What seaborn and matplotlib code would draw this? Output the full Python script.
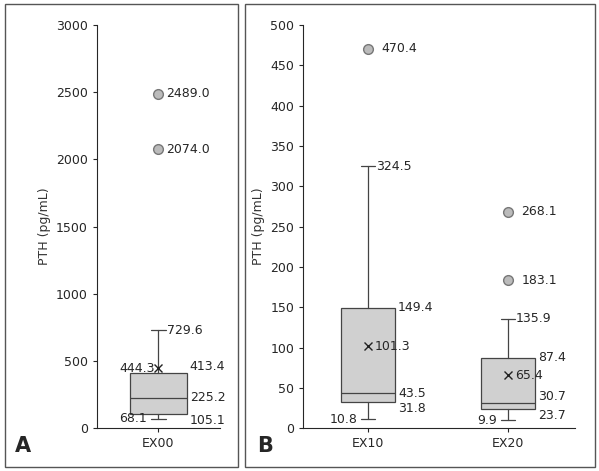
import matplotlib
matplotlib.use("Agg")
import matplotlib.pyplot as plt
import seaborn as sns
from matplotlib.patches import Rectangle

sns.set_style("ticks")
plt.rcParams['font.family'] = ['DejaVu Sans']

# box statistics
groups_a = ["EX00"]
groups_b = ["EX10", "EX20"]
whislo = {"EX00": 68.1, "EX10": 10.8, "EX20": 9.9}
q1 = {"EX00": 105.1, "EX10": 31.8, "EX20": 23.7}
med = {"EX00": 225.2, "EX10": 43.5, "EX20": 30.7}
q3 = {"EX00": 413.4, "EX10": 149.4, "EX20": 87.4}
whishi = {"EX00": 729.6, "EX10": 324.5, "EX20": 135.9}
mean = {"EX00": 444.3, "EX10": 101.3, "EX20": 65.4}
fliers = {"EX00": [2074.0, 2489.0], "EX10": [470.4], "EX20": [183.1, 268.1]}

fig = plt.figure(figsize=(5.99, 4.71), dpi=100)
ax_a = fig.add_axes([0.162, 0.091, 0.205, 0.856])
ax_b = fig.add_axes([0.506, 0.091, 0.454, 0.856])

# panel frames
fig.patches.append(Rectangle((0.008, 0.008), 0.389, 0.984, transform=fig.transFigure,
                             fill=False, edgecolor="#555555", lw=1))
fig.patches.append(Rectangle((0.409, 0.008), 0.585, 0.984, transform=fig.transFigure,
                             fill=False, edgecolor="#555555", lw=1))


def draw(ax, groups, width, ymax, ystep, mean_left):
    stats = [dict(label=g, whislo=whislo[g], q1=q1[g], med=med[g], q3=q3[g],
                  whishi=whishi[g], mean=mean[g], fliers=fliers[g]) for g in groups]
    pos = list(range(1, len(groups) + 1))
    ax.bxp(stats, positions=pos, widths=width, showmeans=True, patch_artist=True,
           boxprops=dict(facecolor="#d0d0d0", edgecolor="#444444", lw=0.9),
           medianprops=dict(color="#444444", lw=0.9),
           whiskerprops=dict(color="#444444", lw=0.9),
           capprops=dict(color="#444444", lw=0.9),
           capwidths=width * 0.25,
           meanprops=dict(marker="x", markeredgecolor="#222222", markersize=6),
           flierprops=dict(marker="o", markerfacecolor="#bbbbbb",
                           markeredgecolor="#777777", markersize=7))
    for p, g in zip(pos, groups):
        dx = width / 2 + 0.02
        fs = 9
        ax.text(p + dx, q3[g], f"{q3[g]:.1f}", va="bottom" if g == "EX00" else "center", fontsize=fs)
        ax.text(p + dx, med[g], f"{med[g]:.1f}", va="bottom" if g == "EX20" else "center", fontsize=fs)
        ax.text(p + dx, q1[g], f"{q1[g]:.1f}", va="top", fontsize=fs)
        ax.text(p + width * 0.15, whishi[g], f"{whishi[g]:.1f}", va="center", fontsize=fs)
        ax.text(p - width * 0.2, whislo[g], f"{whislo[g]:.1f}", va="center", ha="right", fontsize=fs)
        for f in fliers[g]:
            ax.text(p + 0.06 * (1 if g == "EX00" else 1.6), f, f"{f:.1f}", va="center", fontsize=fs)
        if mean_left:
            ax.text(p - 0.03, mean[g], f"{mean[g]:.1f}", va="center", ha="right", fontsize=fs)
        else:
            ax.text(p + 0.05, mean[g], f"{mean[g]:.1f}", va="center", fontsize=fs)
    ax.set_ylim(0, ymax)
    ax.set_yticks(range(0, ymax + 1, ystep))
    ax.set_ylabel("PTH (pg/mL)", fontsize=9, color="#333333")
    ax.tick_params(labelsize=9, direction="out", length=3)
    sns.despine(ax=ax)


draw(ax_a, groups_a, 0.47, 3000, 500, True)
ax_a.set_xlim(0.5, 1.5)
draw(ax_b, groups_b, 0.39, 500, 50, False)
ax_b.set_xlim(0.536, 2.48)

fig.text(0.025, 0.04, "A", fontsize=15, fontweight="bold")
fig.text(0.43, 0.04, "B", fontsize=15, fontweight="bold")

fig.savefig("out.png", dpi=100)
